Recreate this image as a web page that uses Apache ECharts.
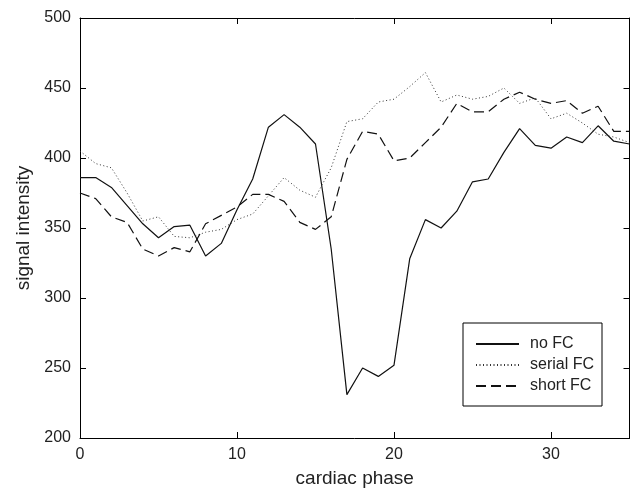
<!DOCTYPE html>
<html>
<head>
<meta charset="utf-8">
<script src="https://cdn.jsdelivr.net/npm/echarts@6/dist/echarts.min.js"></script>
<style>
  html, body { margin: 0; padding: 0; background: #fff; }
  #chart { width: 632px; height: 493px; }
</style>
</head>
<body>
<div id="chart"></div>
<script>
// cardiac phases 0..35
const phases = [0,1,2,3,4,5,6,7,8,9,10,11,12,13,14,15,16,17,18,19,20,21,22,23,24,25,26,27,28,29,30,31,32,33,34,35];
const noFC = [386,386,379,366,353,343,351,352,330,339,363,385,422,431,422,410,335,231,250,244,252,328,356,350,362,383,385,404,421,409,407,415,411,423,412,410];
const serialFC = [405,396,393,375,355,358,344,343,347,349,356,360,373,386,377,372,393,426,428,440,442,451,461,440,445,442,444,450,439,443,428,432,425,417,415,411];
const shortFC = [375,371,358,354,335,330,336,333,353,359,365,374,374,369,354,349,358,399,419,417,398,400,411,422,439,433,433,442,447,442,439,441,432,437,419,419];
const xTicks = [0, 10, 20, 30];
const yTicks = [200, 250, 300, 350, 400, 450, 500];

const FONT = '"Liberation Sans", Arial, Helvetica, sans-serif';
const pairs = vals => phases.map((p, i) => [p, vals[i]]);

const chart = echarts.init(document.getElementById('chart'));

const axisLine = { show: true, onZero: false, lineStyle: { color: '#000', width: 1 } };
const tick = { show: true, inside: true, length: 6, lineStyle: { color: '#000', width: 1 } };

chart.setOption({
  animation: false,
  backgroundColor: '#fff',
  grid: { left: 80, top: 18, right: 2.5, bottom: 53 },
  legend: {
    orient: 'vertical',
    left: 463, top: 323,
    padding: [13, 8, 12, 12],
    itemWidth: 43, itemHeight: 14, itemGap: 5,
    borderColor: '#000', borderWidth: 1,
    itemStyle: { opacity: 0 },
    textStyle: { fontSize: 16, color: '#222', fontFamily: FONT, padding: [0, 0, 0, 6] },
    data: ['no FC', 'serial FC', 'short FC']
  },
  xAxis: [{
    type: 'value', min: 0, max: 35, interval: 10,
    name: 'cardiac phase', nameLocation: 'middle', nameGap: 31,
    nameTextStyle: { fontSize: 19, color: '#222', fontFamily: FONT },
    axisLine, axisTick: tick,
    axisLabel: { fontSize: 16, color: '#222', fontFamily: FONT, margin: 9,
      showMaxLabel: false, formatter: v => xTicks.includes(v) ? v : '' },
    splitLine: { show: false }
  }, {
    type: 'value', min: 0, max: 35, interval: 10, position: 'top',
    axisLine, axisTick: tick, axisLabel: { show: false }, splitLine: { show: false }
  }],
  yAxis: [{
    type: 'value', min: 200, max: 500, interval: 50,
    name: 'signal intensity', nameLocation: 'middle', nameGap: 41,
    nameTextStyle: { fontSize: 19, color: '#222', fontFamily: FONT },
    axisLine, axisTick: tick,
    axisLabel: { fontSize: 16, color: '#222', fontFamily: FONT, margin: 9,
      formatter: v => yTicks.includes(v) ? v : '' },
    splitLine: { show: false }
  }, {
    type: 'value', min: 200, max: 500, interval: 50, position: 'right',
    axisLine, axisTick: tick, axisLabel: { show: false }, splitLine: { show: false }
  }],
  series: [{
    name: 'no FC', type: 'line', symbol: 'none', data: pairs(noFC),
    lineStyle: { color: '#111', width: 1.2, type: 'solid' }, itemStyle: { color: '#111' }
  }, {
    name: 'serial FC', type: 'line', symbol: 'none', data: pairs(serialFC),
    lineStyle: { color: '#333', width: 1, type: [1, 2.5] }, itemStyle: { color: '#333' }
  }, {
    name: 'short FC', type: 'line', symbol: 'none', data: pairs(shortFC),
    lineStyle: { color: '#111', width: 1.2, type: [10, 5] }, itemStyle: { color: '#111' }
  }]
});
</script>
</body>
</html>
